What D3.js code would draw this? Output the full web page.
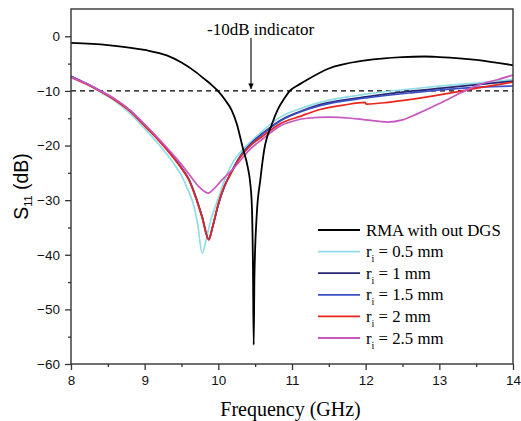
<!DOCTYPE html>
<html>
<head>
<meta charset="utf-8">
<script src="https://cdn.jsdelivr.net/npm/d3@7"></script>
<style>
  body { margin: 0; background: #fff; }
  svg { display: block; }
</style>
</head>
<body>
<svg width="521" height="421"></svg>
<script>
// S11 curves: [frequency GHz, dB]
const rmaNoDgs = [[8,-1.2],[8.5,-1.6],[9,-2.5],[9.3,-3.5],[9.5,-4.8],[9.7,-6.6],[9.8,-7.7],[9.9,-8.8],[10,-10.1],[10.1,-11.8],[10.18,-13.5],[10.25,-16],[10.33,-20.3],[10.4,-24],[10.43,-26.5],[10.455,-31],[10.47,-42],[10.48,-56.5],[10.49,-44],[10.52,-33],[10.57,-26.3],[10.62,-21],[10.73,-16],[10.8,-13.6],[10.9,-11.3],[10.97,-10],[11.1,-8.8],[11.2,-8],[11.5,-5.9],[12,-4.4],[12.5,-3.8],[12.8,-3.7],[13,-3.8],[13.5,-4.3],[14,-5.3]];
const ri05 = [[8,-7.4],[8.2,-8.7],[8.4,-10.2],[8.6,-11.9],[8.8,-14.1],[9,-16.9],[9.2,-19.9],[9.4,-23.4],[9.5,-25.5],[9.6,-28.5],[9.66,-30.7],[9.72,-34.4],[9.78,-39.7],[9.85,-36.3],[9.9,-33.5],[9.98,-30.4],[10.05,-27.6],[10.1,-25.8],[10.2,-23],[10.3,-21.2],[10.43,-19.4],[10.6,-17.3],[10.84,-14.8],[11.1,-13.3],[11.38,-12.1],[12,-10.6],[12.64,-9.6],[13.1,-9],[13.55,-8.5],[14,-7.9]];
const ri1 = [[8,-7.3],[8.2,-8.6],[8.4,-10],[8.6,-11.6],[8.8,-13.6],[9,-16.3],[9.2,-19.1],[9.4,-22.3],[9.5,-24.1],[9.6,-26.2],[9.7,-29.6],[9.78,-33],[9.87,-37.2],[9.92,-35],[10,-30.8],[10.08,-27.6],[10.16,-25.3],[10.3,-21.9],[10.43,-19.8],[10.6,-17.8],[10.84,-15.4],[11.1,-13.8],[11.38,-12.5],[12,-11.1],[12.64,-10],[13.1,-9.4],[13.55,-8.8],[14,-8.2]];
const ri15 = [[8,-7.3],[8.2,-8.6],[8.4,-10],[8.6,-11.6],[8.8,-13.6],[9,-16.3],[9.2,-19.1],[9.4,-22.3],[9.5,-24.1],[9.6,-26.2],[9.7,-29.7],[9.78,-33.1],[9.87,-37.1],[9.92,-35],[10,-30.8],[10.08,-27.6],[10.16,-25.3],[10.3,-21.9],[10.43,-19.9],[10.6,-17.9],[10.84,-15.5],[11.1,-13.9],[11.38,-12.7],[12,-11.3],[12.64,-10.3],[13.1,-9.7],[13.55,-9.3],[14,-9.1]];
const ri2 = [[8,-7.5],[8.2,-8.7],[8.4,-10.1],[8.6,-11.7],[8.8,-13.7],[9,-16.4],[9.2,-19.2],[9.4,-22.4],[9.5,-24.2],[9.6,-26.3],[9.7,-29.8],[9.78,-33.2],[9.87,-37.3],[9.92,-35],[10,-30.6],[10.08,-27.4],[10.16,-25.4],[10.3,-22.1],[10.43,-20.1],[10.6,-18.3],[10.84,-16],[11.1,-14.7],[11.38,-13.4],[11.7,-12.6],[11.99,-12.1],[12.01,-12.4],[12.3,-12.1],[12.64,-11.5],[13.1,-10.5],[13.55,-9.4],[14,-8.4]];
const ri25 = [[8,-7.4],[8.2,-8.6],[8.4,-10],[8.6,-11.5],[8.8,-13.5],[9,-16.1],[9.2,-18.9],[9.4,-21.9],[9.5,-23.5],[9.6,-25.2],[9.7,-27],[9.8,-28.3],[9.86,-28.7],[9.95,-27.8],[10.05,-26.3],[10.2,-24.3],[10.43,-20.7],[10.6,-18.8],[10.84,-16.4],[11,-15.6],[11.2,-15],[11.5,-14.8],[11.8,-15],[12,-15.3],[12.3,-15.7],[12.5,-15.3],[12.7,-14.2],[13,-12.3],[13.3,-10.3],[13.55,-8.8],[13.8,-7.9],[14,-7.1]];

const seriesNames = ["RMA with out DGS", "0.5 mm", "1 mm", "1.5 mm", "2 mm", "2.5 mm"];
const seriesData = [rmaNoDgs, ri05, ri1, ri15, ri2, ri25];
const seriesColors = ["#000000", "#8fdde6", "#262673", "#3d4fc4", "#e8261c", "#c957bd"];

const xTicks = [8, 9, 10, 11, 12, 13, 14];
const yTicks = [-60, -50, -40, -30, -20, -10, 0];

const width = 521, height = 421;
const margin = {top: 9, right: 8, bottom: 57, left: 71};

const svg = d3.select("svg");

const x = d3.scaleLinear().domain([8, 14]).range([margin.left, width - margin.right]);
const y = d3.scaleLinear().domain([-60, 5]).range([height - margin.bottom, margin.top]);

// axes, major + minor ticks
const xAxis = d3.axisBottom(x).tickValues(xTicks).tickFormat(d3.format("d")).tickSize(6).tickPadding(5);
const xMinor = d3.axisBottom(x).tickValues(d3.range(8.5, 14, 1)).tickFormat("").tickSize(3);
const yAxis = d3.axisLeft(y).tickValues(yTicks).tickFormat(d3.format("d")).tickSize(6).tickPadding(5);
const yMinor = d3.axisLeft(y).tickValues(d3.range(-55, 5, 10)).tickFormat("").tickSize(3);

function styleAxis(g) {
  g.selectAll("path").remove();
  g.selectAll("line").attr("stroke", "#333").attr("stroke-width", 1.3);
  g.selectAll("text").attr("font-family", "Liberation Sans, Arial, sans-serif").attr("font-size", 13.5).attr("fill", "#111");
}

svg.append("g").attr("transform", `translate(0,${height - margin.bottom})`).call(xAxis).call(styleAxis);
svg.append("g").attr("transform", `translate(0,${height - margin.bottom})`).call(xMinor).call(styleAxis);
svg.append("g").attr("transform", `translate(${margin.left},0)`).call(yAxis).call(styleAxis);
svg.append("g").attr("transform", `translate(${margin.left},0)`).call(yMinor).call(styleAxis);

// -10 dB reference line
svg.append("line")
  .attr("x1", x(8)).attr("x2", x(14))
  .attr("y1", y(-10)).attr("y2", y(-10))
  .attr("stroke", "#000").attr("stroke-width", 1.2)
  .attr("stroke-dasharray", "5,4");

// curves
const line = d3.line()
  .x(d => x(d[0]))
  .y(d => y(d[1]))
  .curve(d3.curveMonotoneX);

svg.append("defs").append("clipPath").attr("id", "plotclip")
  .append("rect")
  .attr("x", margin.left).attr("y", margin.top)
  .attr("width", width - margin.left - margin.right)
  .attr("height", height - margin.top - margin.bottom);

const drawOrder = [1, 2, 3, 4, 5, 0];
svg.append("g").attr("clip-path", "url(#plotclip)")
  .selectAll("path.curve")
  .data(drawOrder)
  .enter().append("path")
  .classed("curve", true)
  .attr("d", i => line(seriesData[i]))
  .attr("fill", "none")
  .attr("stroke", i => seriesColors[i])
  .attr("stroke-width", i => i === 0 ? 1.8 : 1.7);

// frame
svg.append("rect")
  .attr("x", margin.left).attr("y", margin.top)
  .attr("width", width - margin.left - margin.right)
  .attr("height", height - margin.top - margin.bottom)
  .attr("fill", "none").attr("stroke", "#333").attr("stroke-width", 1.4);

// annotation with arrow
svg.append("defs").append("marker")
  .attr("id", "arrowhead")
  .attr("viewBox", "0 0 10 10")
  .attr("refX", 10).attr("refY", 5)
  .attr("markerWidth", 5).attr("markerHeight", 7)
  .attr("orient", "auto")
  .append("path").attr("d", "M0,0 L10,5 L0,10 z").attr("fill", "#000");

svg.append("line")
  .attr("x1", 251).attr("x2", 251)
  .attr("y1", 38).attr("y2", y(-10) - 2)
  .attr("stroke", "#000").attr("stroke-width", 1.1)
  .attr("marker-end", "url(#arrowhead)");

svg.append("text")
  .attr("x", 207).attr("y", 35)
  .attr("font-family", "Liberation Serif, Times New Roman, serif")
  .attr("font-size", 17)
  .text("-10dB indicator");

// legend
const legend = svg.append("g").attr("font-family", "Liberation Serif, Times New Roman, serif").attr("font-size", 16.8);
seriesNames.forEach((name, i) => {
  const yy = 230 + i * 21.6;
  legend.append("line")
    .attr("x1", 318).attr("x2", 360).attr("y1", yy).attr("y2", yy)
    .attr("stroke", seriesColors[i]).attr("stroke-width", 1.8);
  const t = legend.append("text").attr("x", 366).attr("y", yy + 5.5);
  if (i === 0) {
    t.text(name);
  } else {
    t.append("tspan").text("r");
    t.append("tspan").attr("font-size", 10).attr("dy", 5).text("i");
    t.append("tspan").attr("dy", -5).text(" = " + name);
  }
});

// axis titles
svg.append("text")
  .attr("x", x(10.98)).attr("y", 416)
  .attr("text-anchor", "middle")
  .attr("font-family", "Liberation Serif, Times New Roman, serif")
  .attr("font-size", 20)
  .text("Frequency (GHz)");

const yl = svg.append("text")
  .attr("transform", `translate(28,${y(-27.5)}) rotate(-90)`)
  .attr("text-anchor", "middle")
  .attr("font-family", "Liberation Sans, Arial, sans-serif")
  .attr("font-size", 19.5);
yl.append("tspan").text("S");
yl.append("tspan").attr("font-size", 11).attr("dy", 4).text("11");
yl.append("tspan").attr("dy", -4).text(" (dB)");
</script>
</body>
</html>
